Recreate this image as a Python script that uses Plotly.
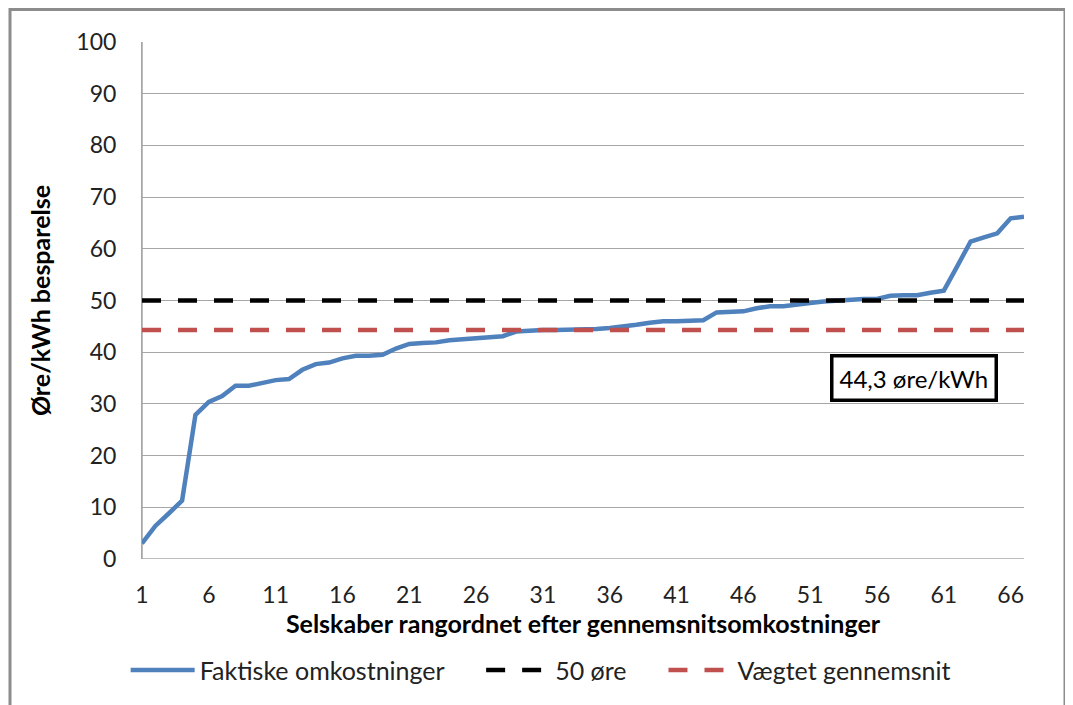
import plotly.graph_objects as go

companies = list(range(1, 68))
faktiske = [3.0, 6.4, 8.8, 11.3, 27.9, 30.4, 31.5, 33.5, 33.5, 34.1,
            34.6, 34.8, 36.6, 37.7, 38.0, 38.8, 39.3, 39.3, 39.5, 40.7,
            41.6, 41.8, 41.9, 42.3, 42.5, 42.5, 42.8, 43.1, 44.0, 44.2,
            44.3, 44.3, 44.3, 44.4, 44.5, 44.7, 44.9, 45.3, 45.7, 46.0,
            46.0, 46.2, 46.2, 47.7, 47.8, 47.9, 48.5, 48.9, 48.9, 49.3,
            49.5, 49.8, 50.0, 50.1, 50.3, 50.3, 50.9, 51.0, 51.0, 51.5,
            51.9, 56.6, 61.4, 62.2, 63.0, 65.9, 66.2]
level_50 = 50
level_weighted = 44.3
series_names = ["Faktiske omkostninger", "50 øre", "Vægtet gennemsnit"]
y_ticks = [0, 10, 20, 30, 40, 50, 60, 70, 80, 90, 100]
x_ticks = [1, 6, 11, 16, 21, 26, 31, 36, 41, 46, 51, 56, 61, 66]
annotation_text = "44,3 øre/kWh"

FONT = "Lato"
PAD = "\u00a0" * 5

fig = go.Figure()
fig.add_trace(go.Scatter(x=companies, y=faktiske, mode="lines", name=series_names[0] + PAD,
                         line=dict(color="#4F81BD", width=4.5)))
fig.add_trace(go.Scatter(x=companies, y=[level_50] * len(companies), mode="lines",
                         name=series_names[1] + PAD,
                         line=dict(color="#000000", width=4.5, dash="19px,17px")))
fig.add_trace(go.Scatter(x=companies, y=[level_weighted] * len(companies), mode="lines",
                         name=series_names[2],
                         line=dict(color="#C0504D", width=4.5, dash="19px,17px")))

fig.add_annotation(x=58.75, y=39.6, xref="x", yref="y", yanchor="top",
                   text=annotation_text,
                   showarrow=False, font=dict(family=FONT, size=24, color="#000"),
                   bgcolor="white", bordercolor="black", borderwidth=3.5, borderpad=6)

pw, ph = 882, 517
fig.add_shape(type="rect", xref="paper", yref="paper",
              x0=(10 - 142) / pw, x1=(1065 - 142) / pw,
              y0=(559 - 730) / ph, y1=(559 - 9.5) / ph,
              line=dict(color="#8c8c8c", width=3), fillcolor="rgba(0,0,0,0)", layer="below")

fig.update_layout(
    width=1073, height=705,
    margin=dict(l=134, r=57, t=34, b=154),
    paper_bgcolor="white", plot_bgcolor="white",
    font=dict(family=FONT, size=24, color="#222"),
    showlegend=True,
    legend=dict(orientation="h", x=0.452, xanchor="center", y=-0.215, yanchor="middle",
                font=dict(family=FONT, size=25, color="#222"), itemwidth=64,
                traceorder="normal"),
    xaxis=dict(range=[1, 67], tickmode="array", tickvals=x_ticks,
               ticktext=[str(v) for v in x_ticks], showgrid=False, zeroline=False,
               showline=False, ticks="", ticklabelstandoff=20,
               tickfont=dict(family=FONT, size=23, color="#222"),
               title=dict(text="<b>Selskaber rangordnet efter gennemsnitsomkostninger</b>",
                          font=dict(family=FONT, size=25, color="#000"), standoff=4)),
    yaxis=dict(range=[0, 100], tickmode="array", tickvals=y_ticks,
               ticktext=[str(v) for v in y_ticks], showgrid=True, gridcolor="#a6a6a6",
               gridwidth=1, zeroline=False, showline=True, linecolor="#a6a6a6",
               linewidth=1, ticks="", ticklabelstandoff=20,
               tickfont=dict(family=FONT, size=23, color="#222"),
               title=dict(text="<b>Øre/kWh besparelse</b>",
                          font=dict(family=FONT, size=25, color="#000"), standoff=18)),
)
fig.add_hline(y=0, line=dict(color="#a6a6a6", width=1.5), layer="below")
fig.add_vline(x=1, line=dict(color="#a6a6a6", width=1.5), layer="below")

fig.write_html("out.html")
